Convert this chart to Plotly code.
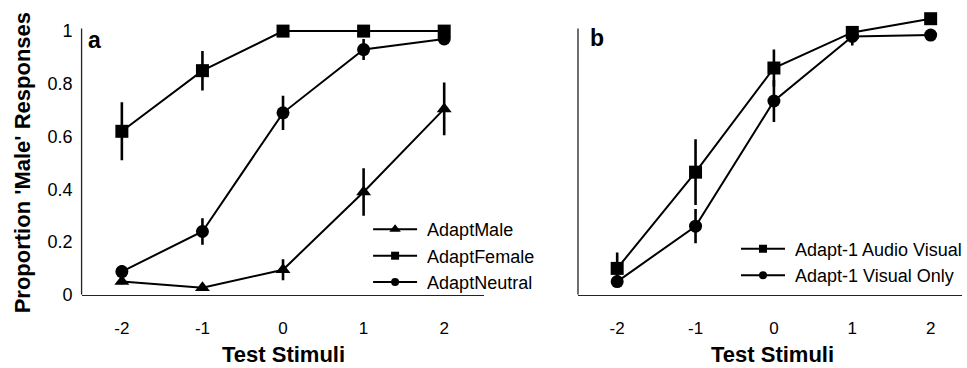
import plotly.graph_objects as go

W, H = 967, 368

stimuli = [-2, -1, 0, 1, 2]
tick_labels_x = ["-2", "-1", "0", "1", "2"]
y_ticks = [0, 0.2, 0.4, 0.6, 0.8, 1.0]
y_tick_labels = ["0", "0.2", "0.4", "0.6", "0.8", "1"]

# Panel a
adapt_male = [0.05, 0.027, 0.095, 0.39, 0.705]
adapt_male_err = [0.01, 0.01, 0.04, 0.09, 0.10]
adapt_female = [0.62, 0.85, 1.0, 1.0, 1.0]
adapt_female_err = [0.11, 0.075, 0.0, 0.0, 0.0]
adapt_neutral = [0.088, 0.24, 0.69, 0.93, 0.97]
adapt_neutral_err = [0.025, 0.05, 0.065, 0.04, 0.01]

# Panel b
av = [0.10, 0.465, 0.86, 0.995, 1.047]
av_err = [0.06, 0.125, 0.07, 0.01, 0.0]
vo = [0.05, 0.26, 0.735, 0.98, 0.985]
vo_err = [0.01, 0.065, 0.08, 0.035, 0.0]

FONT = "Arial, Liberation Sans, sans-serif"
BLACK = "#000000"
NBSP = "\u00a0"


def px(x):
    return x / W


def py(y):
    return 1 - y / H


fig = go.Figure()


def add_series(x, y, err, symbol, size, legend_size, name, xa, ya, legend):
    fig.add_trace(go.Scatter(
        x=x, y=y, mode="lines+markers", xaxis=xa, yaxis=ya,
        line=dict(color=BLACK, width=2),
        marker=dict(symbol=symbol, size=size, color=BLACK),
        error_y=dict(type="data", array=err, visible=True, color=BLACK,
                     thickness=2.6, width=0),
        showlegend=False, cliponaxis=False, name=name))
    # legend-only entry with smaller marker
    fig.add_trace(go.Scatter(
        x=[None], y=[None], mode="lines+markers", xaxis=xa, yaxis=ya,
        line=dict(color=BLACK, width=2),
        marker=dict(symbol=symbol, size=legend_size, color=BLACK),
        name=NBSP + name, legend=legend, legendgroup=name, showlegend=True))


add_series(stimuli, adapt_male, adapt_male_err, "triangle-up", 13, 10, "AdaptMale", "x", "y", "legend")
add_series(stimuli, adapt_female, adapt_female_err, "square", 13, 8, "AdaptFemale", "x", "y", "legend")
add_series(stimuli, adapt_neutral, adapt_neutral_err, "circle", 13, 8, "AdaptNeutral", "x", "y", "legend")
add_series(stimuli, av, av_err, "square", 13, 8, "Adapt-1 Audio Visual", "x2", "y2", "legend2")
add_series(stimuli, vo, vo_err, "circle", 13, 8, "Adapt-1 Visual Only", "x2", "y2", "legend2")

ydom = [65 / H, 355 / H]
axis_common = dict(showgrid=False, zeroline=False, ticks="")
fig.update_layout(
    width=W, height=H,
    margin=dict(l=0, r=0, t=0, b=0),
    paper_bgcolor="white", plot_bgcolor="white",
    font=dict(family=FONT, color=BLACK),
    xaxis=dict(domain=[82 / W, 487 / W], range=[-2.5, 2.5], tickmode="array",
               tickvals=stimuli, ticktext=tick_labels_x, showline=True,
               linecolor="#222", linewidth=1.3, ticklabelstandoff=18,
               tickfont=dict(size=17), **axis_common),
    yaxis=dict(domain=ydom, range=[0, 1.07], tickmode="array", tickvals=y_ticks,
               ticktext=y_tick_labels, showline=False, ticklabelstandoff=8,
               tickfont=dict(size=18), anchor="x", **axis_common),
    xaxis2=dict(domain=[581 / W, 1.0], range=[-2.5, 2.4], tickmode="array",
                tickvals=stimuli, ticktext=tick_labels_x, showline=True,
                linecolor="#222", linewidth=1.3, ticklabelstandoff=18,
                tickfont=dict(size=17), anchor="y2", **axis_common),
    yaxis2=dict(domain=ydom, range=[0, 1.07], showticklabels=False,
                showline=False, anchor="x2", **axis_common),
    legend=dict(x=px(370), y=py(217), xanchor="left", yanchor="top",
                font=dict(size=18), bgcolor="rgba(0,0,0,0)", itemwidth=44,
                tracegroupgap=0, itemclick=False),
    legend2=dict(x=px(740), y=py(237), xanchor="left", yanchor="top",
                 font=dict(size=18), bgcolor="rgba(0,0,0,0)", itemwidth=44,
                 tracegroupgap=0, itemclick=False),
)

# y-axis lines up to 1
for xd, yref in (("x domain", "y"), ("x2 domain", "y2")):
    fig.add_shape(type="line", xref=xd, yref=yref, x0=0, x1=0, y0=0, y1=1.01,
                  line=dict(color="#222", width=1.3))

annotations = [
    dict(text="<b>a</b>", x=px(95), y=py(41), font=dict(size=23)),
    dict(text="<b>b</b>", x=px(600), y=py(39), font=dict(size=23)),
    dict(text="<b>Test Stimuli</b>", x=px(285), y=py(364), font=dict(size=22)),
    dict(text="<b>Test Stimuli</b>", x=px(777), y=py(364), font=dict(size=22)),
    dict(text="<b>Proportion 'Male' Responses</b>", x=px(23), y=py(167),
         textangle=-90, font=dict(size=22)),
]
for a in annotations:
    fig.add_annotation(xref="paper", yref="paper", showarrow=False,
                       xanchor="center", yanchor="middle", **a)

fig.write_html("out.html")
